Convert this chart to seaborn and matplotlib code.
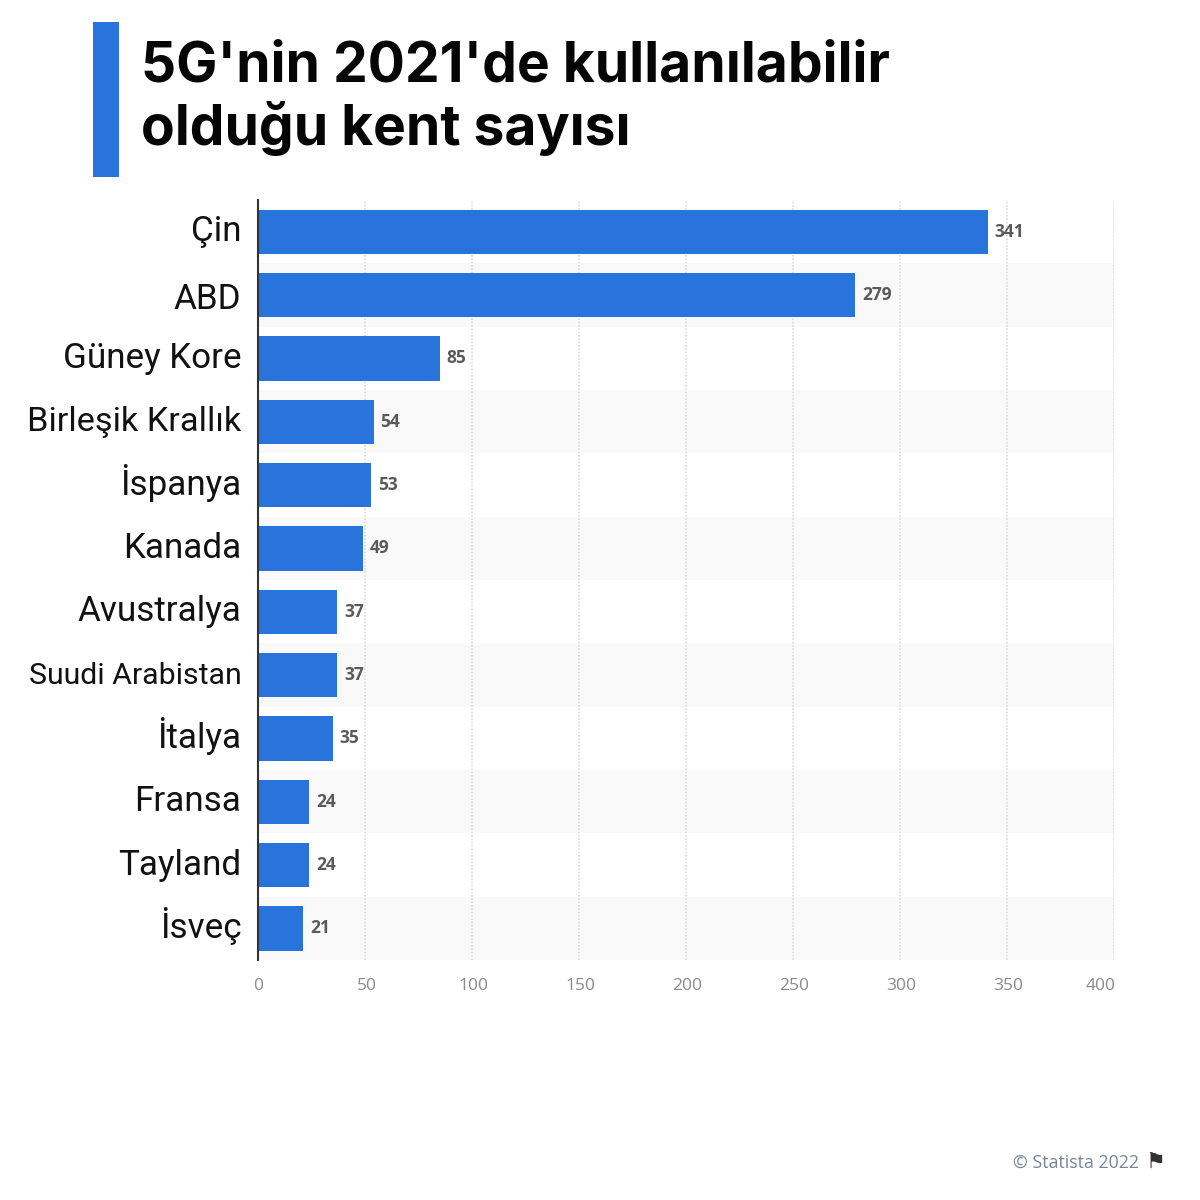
import matplotlib
matplotlib.use("Agg")
import matplotlib.pyplot as plt
import pandas as pd
import seaborn as sns
from matplotlib.patches import Rectangle
from matplotlib.transforms import ScaledTranslation

countries = ["Çin", "ABD", "Güney Kore", "Birleşik Krallık", "İspanya", "Kanada",
             "Avustralya", "Suudi Arabistan", "İtalya", "Fransa", "Tayland", "İsveç"]
cities = [341, 279, 85, 54, 53, 49, 37, 37, 35, 24, 24, 21]
x_ticks = [0, 50, 100, 150, 200, 250, 300, 350, 400]
title_lines = ["5G'nin 2021'de kullanılabilir", "olduğu kent sayısı"]

BLUE = "#2873dc"

sns.set_theme(style="white")
plt.rcParams["font.family"] = ["Roboto", "DejaVu Sans"]

df = pd.DataFrame({"country": countries, "cities": cities})

fig = plt.figure(figsize=(12, 12), dpi=100)
ax = fig.add_axes([258 / 1200, 1 - 960 / 1200, 856 / 1200, 760 / 1200])


def shift(px, py):
    return ScaledTranslation(px / 100, py / 100, fig.dpi_scale_trans)


# alternating background rows
for i in range(len(countries)):
    if i % 2 == 1:
        ax.axhspan(i - 0.5, i + 0.5, color="#f9f9f9", lw=0, zorder=0)

sns.barplot(data=df, x="cities", y="country", color=BLUE, width=0.7,
            saturation=1, linewidth=0, ax=ax, zorder=3)

ax.set_xlim(0, 400)
ax.set_ylim(len(countries) - 0.5, -0.5)
ax.set_xlabel("")
ax.set_ylabel("")
ax.set_xticks(x_ticks)
ax.xaxis.grid(True, color="#dcdcdc", linestyle=(0, (1, 1)), linewidth=1.2)
ax.set_axisbelow(True)
for s in ["top", "right", "bottom"]:
    ax.spines[s].set_visible(False)
ax.spines["left"].set_color("#333333")
ax.spines["left"].set_linewidth(1.5)
ax.spines["left"].set_zorder(5)

ax.tick_params(axis="x", length=0, pad=13, labelsize=12.5, labelcolor="#8a8a8a")
for lab in ax.get_xticklabels():
    lab.set_family("Open Sans")
    if lab.get_text() != "0":
        lab.set_transform(lab.get_transform() + shift(1.5, 0))
ax.get_xticklabels()[-1].set_ha("right")

ax.tick_params(axis="y", length=0, pad=17, labelsize=25.2, labelcolor="#111111")
for lab in ax.get_yticklabels():
    # baselines sit evenly in the reference, so align on baseline not on bbox
    lab.set_va("baseline")
    dy = -14 if lab.get_text() == "ABD" else -9.5
    lab.set_transform(lab.get_transform() + shift(7, dy))
    if lab.get_text() == "Suudi Arabistan":
        lab.set_fontsize(21.8)
    if lab.get_text() == "Birleşik Krallık":
        lab.set_fontsize(24.7)

for cont in ax.containers:
    for t in ax.bar_label(cont, padding=5, fontsize=12.5, fontweight="bold", color="#5a5a5a",
                          family="Open Sans"):
        t.set_transform(t.get_transform() + shift(0, -1))

# title block
fig.add_artist(Rectangle((93 / 1200, 1 - 177 / 1200), 26 / 1200, 155 / 1200,
                         transform=fig.transFigure, color=BLUE, lw=0))
fig.text(141 / 1200, 1 - 82 / 1200, title_lines[0], fontsize=39.7, fontweight="bold",
         family="Inter", color="#050505", va="baseline", ha="left")
fig.text(141 / 1200, 1 - 145 / 1200, title_lines[1], fontsize=39.7, fontweight="bold",
         family="Inter", color="#050505", va="baseline", ha="left")

# source
fig.text(1139 / 1200, 1 - 1163 / 1200, "© Statista 2022", fontsize=12.8, family="Open Sans",
         color="#7a8594", va="center", ha="right")
fig.text(1145 / 1200, 1 - 1162 / 1200, "⚑", fontsize=16, family="DejaVu Sans",
         color="#333333", va="center", ha="left")

fig.savefig("out.png", dpi=100, facecolor="white")
